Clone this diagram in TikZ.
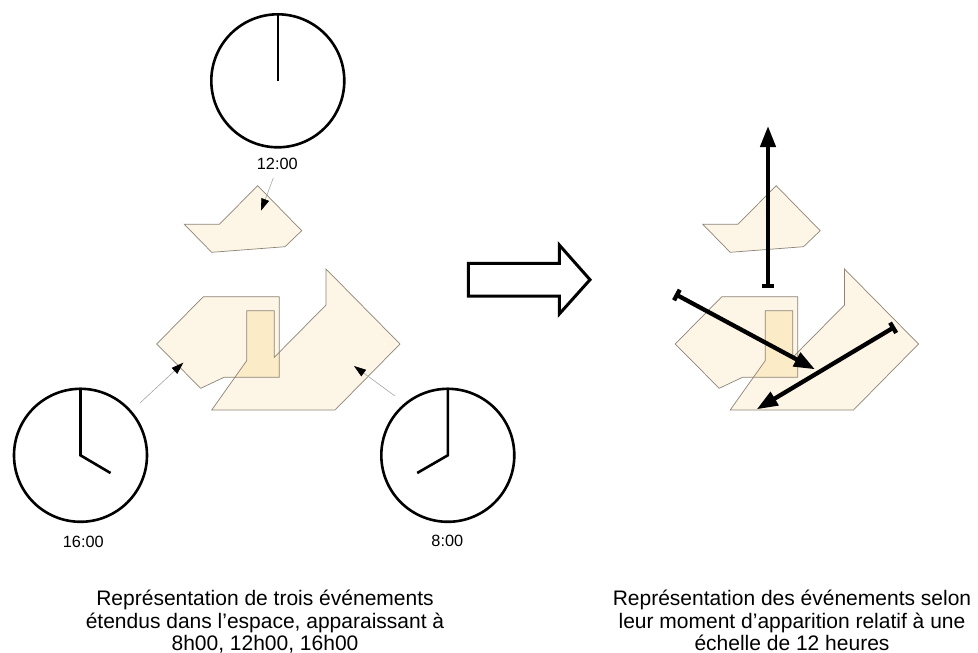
\documentclass[tikz,border=0pt]{standalone}
\usepackage{fontspec}
\setmainfont{Liberation Sans}
\usetikzlibrary{arrows.meta}
\definecolor{evfill}{HTML}{FDF5E5}
\definecolor{evover}{HTML}{FBEBC7}
\definecolor{evline}{HTML}{8C8478}
\tikzset{
 clock/.style={circle, draw=black, line width=2.6pt, minimum size=133pt, inner sep=0pt},
 hand/.style={line width=2.6pt},
 clocklbl/.style={font=\fontsize{16.3}{18}\selectfont, anchor=base, inner sep=0pt},
 caption/.style={font=\fontsize{21}{23}\selectfont, anchor=base, inner sep=0pt},
 evshape/.style={draw=evline, line width=0.7pt, line join=miter},
 thinarrow/.style={draw=gray!70, line width=0.6pt, -{Triangle[length=12pt,width=8pt,color=black]}},
 timearrow/.style={line width=4.3pt, {Bar[width=12pt]}-{Triangle[length=21pt,width=15pt]}},
 bigarrow/.style={draw=black, line width=3pt, fill=white, line join=miter},
}
\begin{document}
\begin{tikzpicture}[x=1pt,y=-1pt]
\useasboundingbox (0,0) rectangle (978,653);
% event shapes, left and right
\foreach \s in {0,518.5}{
\begin{scope}[xshift=\s pt]
 \fill[evfill] (184.3,224.3) -- (219.3,224.3) -- (257.7,185.7) -- (301.7,230.7) -- (285,246.7) -- (211.7,252.3) -- cycle;
 \fill[evfill] (156.7,344) -- (203.3,296.7) -- (279.3,296.7) -- (279.3,377.3) -- (224,377.3) -- (200.7,388.3) -- cycle;
 \fill[evfill] (326,269) -- (326,305) -- (274.3,357.3) -- (274.3,310.7) -- (246.7,310.7) -- (246.7,360.7) -- (211.7,410) -- (335,410) -- (400,344) -- cycle;
 \begin{scope}
  \clip (156.7,344) -- (203.3,296.7) -- (279.3,296.7) -- (279.3,377.3) -- (224,377.3) -- (200.7,388.3) -- cycle;
  \fill[evover] (326,269) -- (326,305) -- (274.3,357.3) -- (274.3,310.7) -- (246.7,310.7) -- (246.7,360.7) -- (211.7,410) -- (335,410) -- (400,344) -- cycle;
 \end{scope}
 \draw[evshape] (184.3,224.3) -- (219.3,224.3) -- (257.7,185.7) -- (301.7,230.7) -- (285,246.7) -- (211.7,252.3) -- cycle;
 \draw[evshape] (156.7,344) -- (203.3,296.7) -- (279.3,296.7) -- (279.3,377.3) -- (224,377.3) -- (200.7,388.3) -- cycle;
 \draw[evshape] (326,269) -- (326,305) -- (274.3,357.3) -- (274.3,310.7) -- (246.7,310.7) -- (246.7,360.7) -- (211.7,410) -- (335,410) -- (400,344) -- cycle;
\end{scope}
}
% clocks
\node[clock] (c12) at (277.8,80.8) {};
\draw[hand] (c12.center) -- (c12.north);
\node[clocklbl] (l12) at (277.3,169) {12:00};

\node[clock] (c16) at (80.5,455.3) {};
\draw[hand] (c16.north) -- (c16.center) -- ++(30,17.7);
\node[clocklbl] (l16) at (83.3,547.3) {16:00};

\node[clock] (c8) at (447.8,455.3) {};
\draw[hand] (c8.north) -- (c8.center) -- ++(-30.6,17.7);
\node[clocklbl] (l8) at (447.3,546.7) {8:00};

% thin pointers
\coordinate (p12s) at (273.3,178);
\coordinate (p12e) at (261,210.7);
\coordinate (p16s) at (140,403);
\coordinate (p16e) at (183.3,362.7);
\coordinate (p8s) at (395,396);
\coordinate (p8e) at (354,366);
\draw[thinarrow] (p12s) -- (p12e);
\draw[thinarrow] (p16s) -- (p16e);
\draw[thinarrow] (p8s) -- (p8e);

% big hollow arrow
\draw[bigarrow] (468.3,263.3) -- (559.3,263.3) -- (559.3,245) -- (590,279.7) -- (559.3,314) -- (559.3,296) -- (468.3,296) -- cycle;

% time arrows
\coordinate (vs) at (768,288.3);
\coordinate (ve) at (768,126);
\coordinate (d1s) at (675,294);
\coordinate (d1e) at (815,369.3);
\coordinate (d2s) at (895,326.7);
\coordinate (d2e) at (756.7,409.3);
\draw[timearrow] (vs) -- (ve);
\draw[timearrow] (d1s) -- (d1e);
\draw[timearrow] (d2s) -- (d2e);

% captions
\node[caption] (cl1) at (265,605.5) {Représentation de trois événements};
\node[caption] (cl2) at (265,628) {étendus dans l’espace, apparaissant à};
\node[caption] (cl3) at (265,650.5) {8h00, 12h00, 16h00};
\node[caption] (cr1) at (792,605.5) {Représentation des événements selon};
\node[caption] (cr2) at (792,628) {leur moment d’apparition relatif à une};
\node[caption] (cr3) at (792,650.5) {échelle de 12 heures};
\end{tikzpicture}
\end{document}
